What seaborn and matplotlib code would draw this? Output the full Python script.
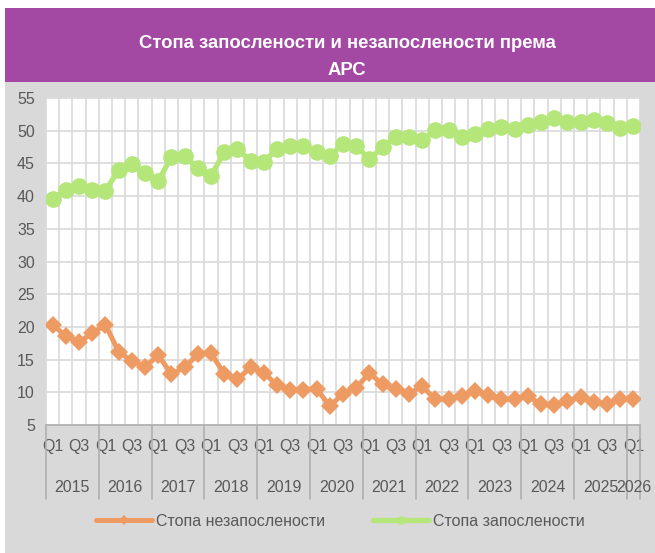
import matplotlib
matplotlib.use("Agg")
import matplotlib.pyplot as plt
import matplotlib.transforms as mtransforms
from matplotlib.patches import Rectangle
import numpy as np
import pandas as pd
import seaborn as sns

# quarters Q1 2015 .. Q1 2026
years = [str(y) for y in range(2015, 2027)]
quarter_labels = ["Q1", "Q3"]
unemployment = [20.35, 18.6, 17.7, 19.0, 20.35, 16.2, 14.8, 13.9, 15.65, 12.8,
                13.8, 15.8, 16.0, 12.8, 12.0, 13.8, 13.0, 11.1, 10.3, 10.4,
                10.55, 7.85, 9.8, 10.7, 12.95, 11.2, 10.55, 9.8, 10.9, 8.9,
                9.0, 9.4, 10.2, 9.55, 8.9, 9.0, 9.4, 8.15, 8.0, 8.7,
                9.3, 8.55, 8.15, 9.0, 8.9]
employment = [39.5, 40.9, 41.5, 41.0, 40.8, 44.0, 44.85, 43.5, 42.3, 46.0,
              46.1, 44.3, 43.1, 46.7, 47.2, 45.4, 45.25, 47.2, 47.6, 47.6,
              46.7, 46.2, 47.9, 47.6, 45.7, 47.45, 49.1, 49.1, 48.6, 50.05,
              50.15, 49.0, 49.5, 50.3, 50.55, 50.25, 50.8, 51.4, 51.9, 51.4,
              51.4, 51.6, 51.2, 50.4, 50.75]
label_unemp = "Стопа незапослености"
label_emp = "Стопа запослености"
title = "Стопа запослености и незапослености према\nАРС"

df = pd.DataFrame({"q": np.arange(len(employment)),
                   "unemp": unemployment, "emp": employment})

sns.set_style("white")
fonts = ["Liberation Sans", "DejaVu Sans"]
plt.rcParams["font.family"] = fonts
txt = "#595959"
grid = "#d9d9d9"

fig = plt.figure(figsize=(6.55, 5.53), dpi=100, facecolor="white")
W, H = 655, 553
fig.patches.append(Rectangle((5 / W, 0), 1, 1 - 82 / H, transform=fig.transFigure,
                             facecolor="#d9d9d9", edgecolor="none", zorder=-10))
fig.patches.append(Rectangle((5 / W, 1 - 82 / H), 1, 74 / H, transform=fig.transFigure,
                             facecolor="#a349a4", edgecolor="none", zorder=-10))
fig.text(347 / W, 1 - 57 / H, title, ha="center", va="center", color="white",
         fontsize=13.3, fontweight="bold", linespacing=1.75)

ax = fig.add_axes([46 / W, 1 - 425 / H, 594 / W, 327 / H])
ax.set_facecolor("white")

sns.lineplot(data=df, x="q", y="unemp", ax=ax, color="#ee9a63", lw=3.6,
             marker="D", markersize=9.5, markeredgewidth=0, label=label_unemp,
             legend=False)
sns.lineplot(data=df, x="q", y="emp", ax=ax, color="#b4e67a", lw=3.8,
             marker="o", markersize=12, markeredgewidth=0, label=label_emp,
             legend=False)

n = len(employment)
ax.set_xlim(-0.5, n - 0.5)
ax.set_ylim(5, 55)
ax.set_yticks(range(5, 56, 5))
ax.set_xticks(range(0, n, 2))
ax.set_xticklabels([quarter_labels[(i // 2) % 2] for i in range(0, n, 2)])
ax.set_xticks(np.arange(-0.5, n, 1), minor=True)
ax.grid(True, which="major", axis="y", color=grid, lw=1.2)
ax.grid(True, which="minor", axis="x", color=grid, lw=1.2)
ax.set_axisbelow(True)
ax.tick_params(axis="x", which="both", length=0, pad=10, labelsize=11.5, labelcolor=txt)
ax.tick_params(axis="y", length=5, color=grid, width=1.2, pad=3, labelsize=11.5,
               labelcolor=txt, left=True)
ax.set_xlabel("")
ax.set_ylabel("")
for s in ["top", "right", "left"]:
    ax.spines[s].set_visible(False)
ax.spines["bottom"].set_color("#b0b0b0")
ax.spines["bottom"].set_linewidth(1.2)

# year level of the category axis
trans = mtransforms.blended_transform_factory(ax.transData, ax.transAxes)
for k, yr in enumerate(years):
    start = k * 4 - 0.5
    end = min(start + 4, n - 0.5)
    ax.text((start + end) / 2, -0.19, yr, transform=trans, ha="center", va="center",
            fontsize=11.5, color=txt)
for xb in list(np.arange(-0.5, n, 4)) + [n - 0.5]:
    ax.plot([xb, xb], [0, -0.225], transform=trans, color="#b0b0b0", lw=1.2,
            clip_on=False)

handles, labels = ax.get_legend_handles_labels()
fig.legend(handles, labels, loc="center", bbox_to_anchor=(0.52, 1 - 521 / H), ncol=2,
           frameon=False, fontsize=11.5, handlelength=3.5, columnspacing=3.0,
           labelcolor=txt, handletextpad=0.25, markerscale=0.5)

fig.savefig("out.png", dpi=100)
